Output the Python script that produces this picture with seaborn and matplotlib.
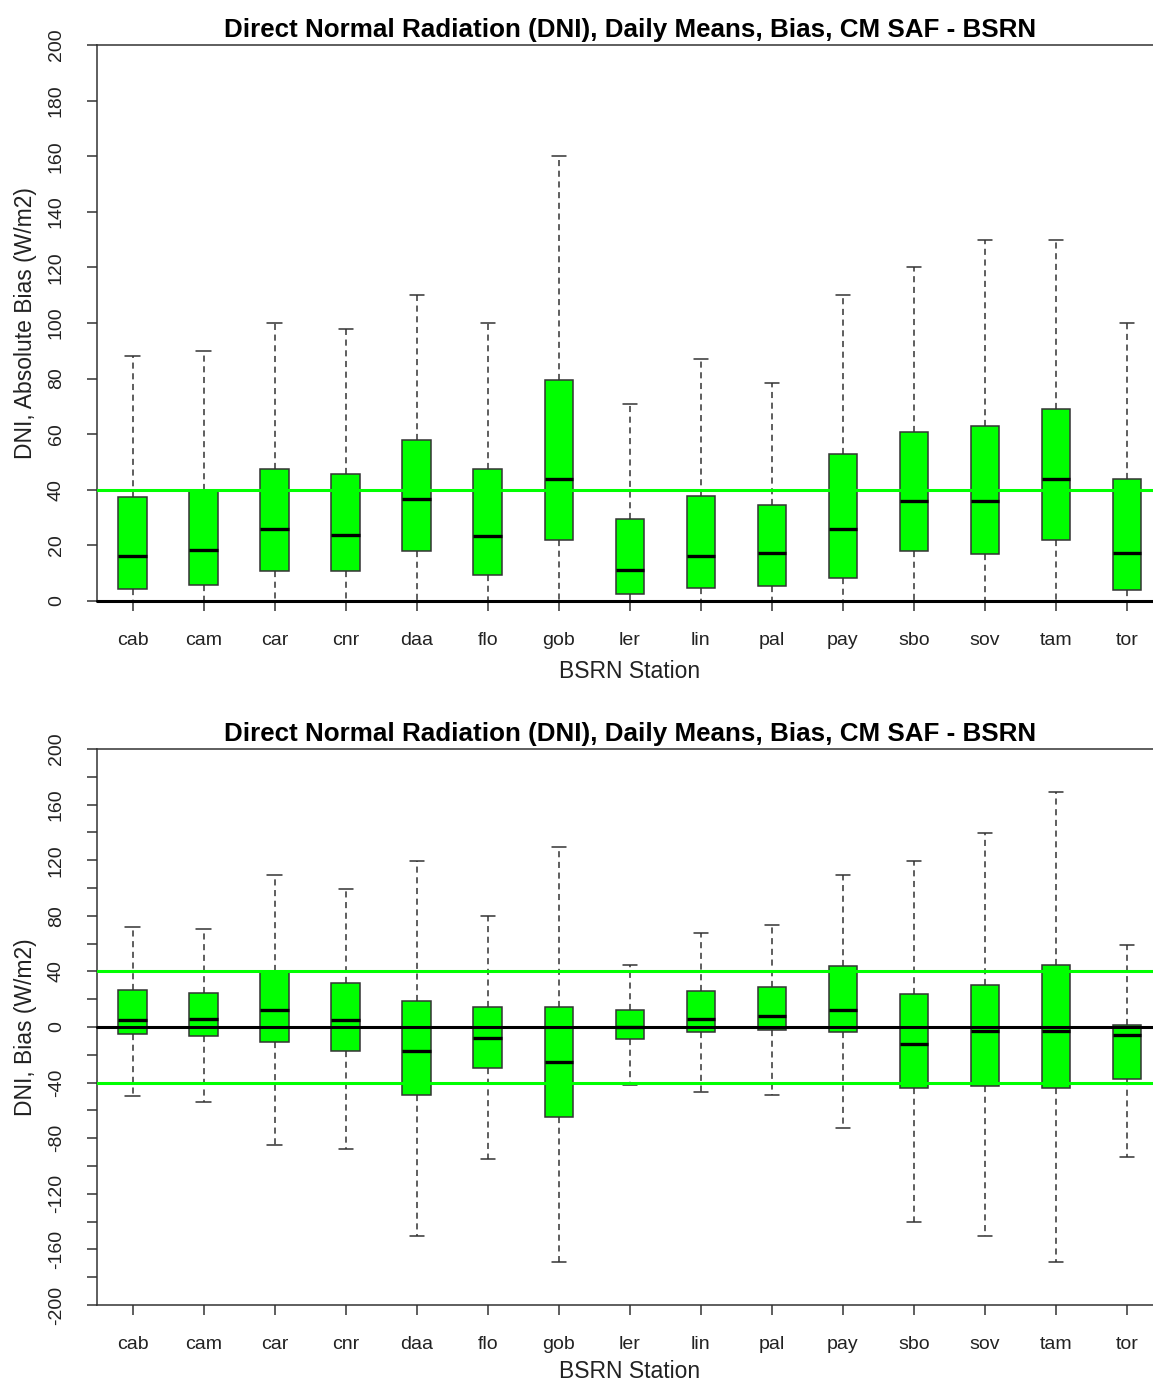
import numpy as np
import pandas as pd
import matplotlib
matplotlib.use("Agg")
import matplotlib.pyplot as plt
import seaborn as sns

# Station codes
stations = ["cab", "cam", "car", "cnr", "daa", "flo", "gob", "ler",
            "lin", "pal", "pay", "sbo", "sov", "tam", "tor"]

# Absolute bias (W/m2): whisker ends, quartiles and medians
abs_low = [0, 0, 0, 0, 0, 0, 0, 0, 0, 0, 0, 0, 0, 0, 0]
abs_q1 = [4.3, 5.9, 10.9, 10.9, 18.0, 9.4, 22.1, 2.4, 4.8, 5.4, 8.4, 18.0, 17.0, 22.1, 3.8]
abs_med = [16.2, 18.2, 25.8, 23.7, 36.8, 23.3, 43.9, 11.2, 16.2, 17.1, 25.8, 36.0, 36.0, 44.0, 17.1]
abs_q3 = [37.5, 40.0, 47.6, 45.7, 57.8, 47.6, 79.6, 29.5, 37.7, 34.5, 52.9, 60.9, 62.9, 68.9, 43.8]
abs_high = [88, 90, 100, 98, 110, 100, 160, 71, 87, 78.5, 110, 120, 130, 130, 100]

# Bias (W/m2): whisker ends, quartiles and medians
bias_low = [-49.6, -53.6, -84.9, -87.8, -150.2, -94.8, -169, -41.4, -46.7, -48.6, -72.8, -140.1, -150.2, -169, -93.8]
bias_q1 = [-4.7, -6.6, -10.9, -17.6, -48.6, -29.5, -64.9, -8.5, -3.7, -2.5, -3.7, -43.8, -42.7, -43.8, -37.6]
bias_med = [5.2, 6.1, 12.0, 5.2, -17.1, -8.0, -25.2, 0.3, 6.1, 8.0, 12.0, -12.1, -3.0, -3.0, -6.1]
bias_q3 = [26.7, 24.7, 40.3, 31.9, 18.8, 14.5, 14.5, 12.5, 25.7, 28.5, 43.6, 23.5, 30.5, 44.8, 1.1]
bias_high = [72.0, 70.8, 109, 99.1, 119.4, 79.9, 129.2, 44.8, 67.7, 73.7, 109, 119.1, 139.4, 169.3, 58.9]

title = "Direct Normal Radiation (DNI), Daily Means, Bias, CM SAF - BSRN"


def five_number_frame(low, q1, med, q3, high):
    """Long table with the five summary values of every station."""
    rows = []
    for st, a, b, c, d, e in zip(stations, low, q1, med, q3, high):
        for v in (a, b, c, d, e):
            rows.append((st, v))
    return pd.DataFrame(rows, columns=["station", "value"])


sns.set_style("white")
plt.rcParams["font.family"] = ["Liberation Sans", "DejaVu Sans"]

FRAME = "#333333"
TEXT = "#222222"
GREEN = "#00ff00"

fig = plt.figure(figsize=(11.53, 13.83), dpi=100)
W, H = 1153.0, 1383.0
left = 97 / W
width = (1162.5 - 97) / W
ax_top = fig.add_axes([left, 1 - 601 / H, width, 556 / H])
ax_bot = fig.add_axes([left, 1 - 1305 / H, width, 556 / H])


def draw_panel(ax, df, ylabel, ylim, ticks, labelled, refs, xpad):
    sns.boxplot(
        data=df, x="station", y="value", order=stations, ax=ax,
        whis=(0, 100), width=0.4, color=GREEN, saturation=1,
        linecolor=FRAME, linewidth=1.1, showfliers=False,
        whiskerprops=dict(linestyle=(0, (4, 3)), color=FRAME, linewidth=1.1),
        capprops=dict(color=FRAME, linewidth=1.1),
        medianprops=dict(color="black", linewidth=2.4),
        boxprops=dict(edgecolor=FRAME, linewidth=1.1),
    )
    for y in refs:
        ax.axhline(y, color=GREEN, lw=2.2, zorder=5)
    ax.axhline(0, color="black", lw=2.2, zorder=6, clip_on=False)

    ax.set_xlim(-0.5, 14.5)
    ax.set_ylim(*ylim)
    ax.set_yticks(ticks)
    ax.set_yticklabels([str(t) if t in labelled else "" for t in ticks])
    ax.set_title(title, fontsize=18.7, fontweight="bold", pad=6, color="black")
    ax.set_xlabel("BSRN Station", fontsize=16.5, color=TEXT, labelpad=xpad)
    ax.set_ylabel(ylabel, fontsize=16.5, color=TEXT, labelpad=8)

    for side in ("left", "top", "bottom"):
        ax.spines[side].set_visible(True)
        ax.spines[side].set_color(FRAME)
        ax.spines[side].set_linewidth(1.1)
    ax.spines["right"].set_visible(False)

    ax.tick_params(axis="both", direction="out", length=7.2, width=1.1,
                   color=FRAME, labelsize=14, labelcolor=TEXT)
    ax.tick_params(axis="x", pad=15, bottom=True)
    ax.tick_params(axis="y", pad=16, left=True)
    for lab in ax.get_yticklabels():
        lab.set_rotation(90)
        lab.set_va("center")
    ax.grid(False)


draw_panel(ax_top,
           five_number_frame(abs_low, abs_q1, abs_med, abs_q3, abs_high),
           "DNI, Absolute Bias (W/m2)", (0, 200),
           list(range(0, 201, 20)), set(range(0, 201, 20)), [40], 8)

draw_panel(ax_bot,
           five_number_frame(bias_low, bias_q1, bias_med, bias_q3, bias_high),
           "DNI, Bias (W/m2)", (-200, 200),
           list(range(-200, 201, 20)), set(range(-200, 201, 40)), [40, -40], 5.5)

fig.savefig("out.png", dpi=100, facecolor="white")
